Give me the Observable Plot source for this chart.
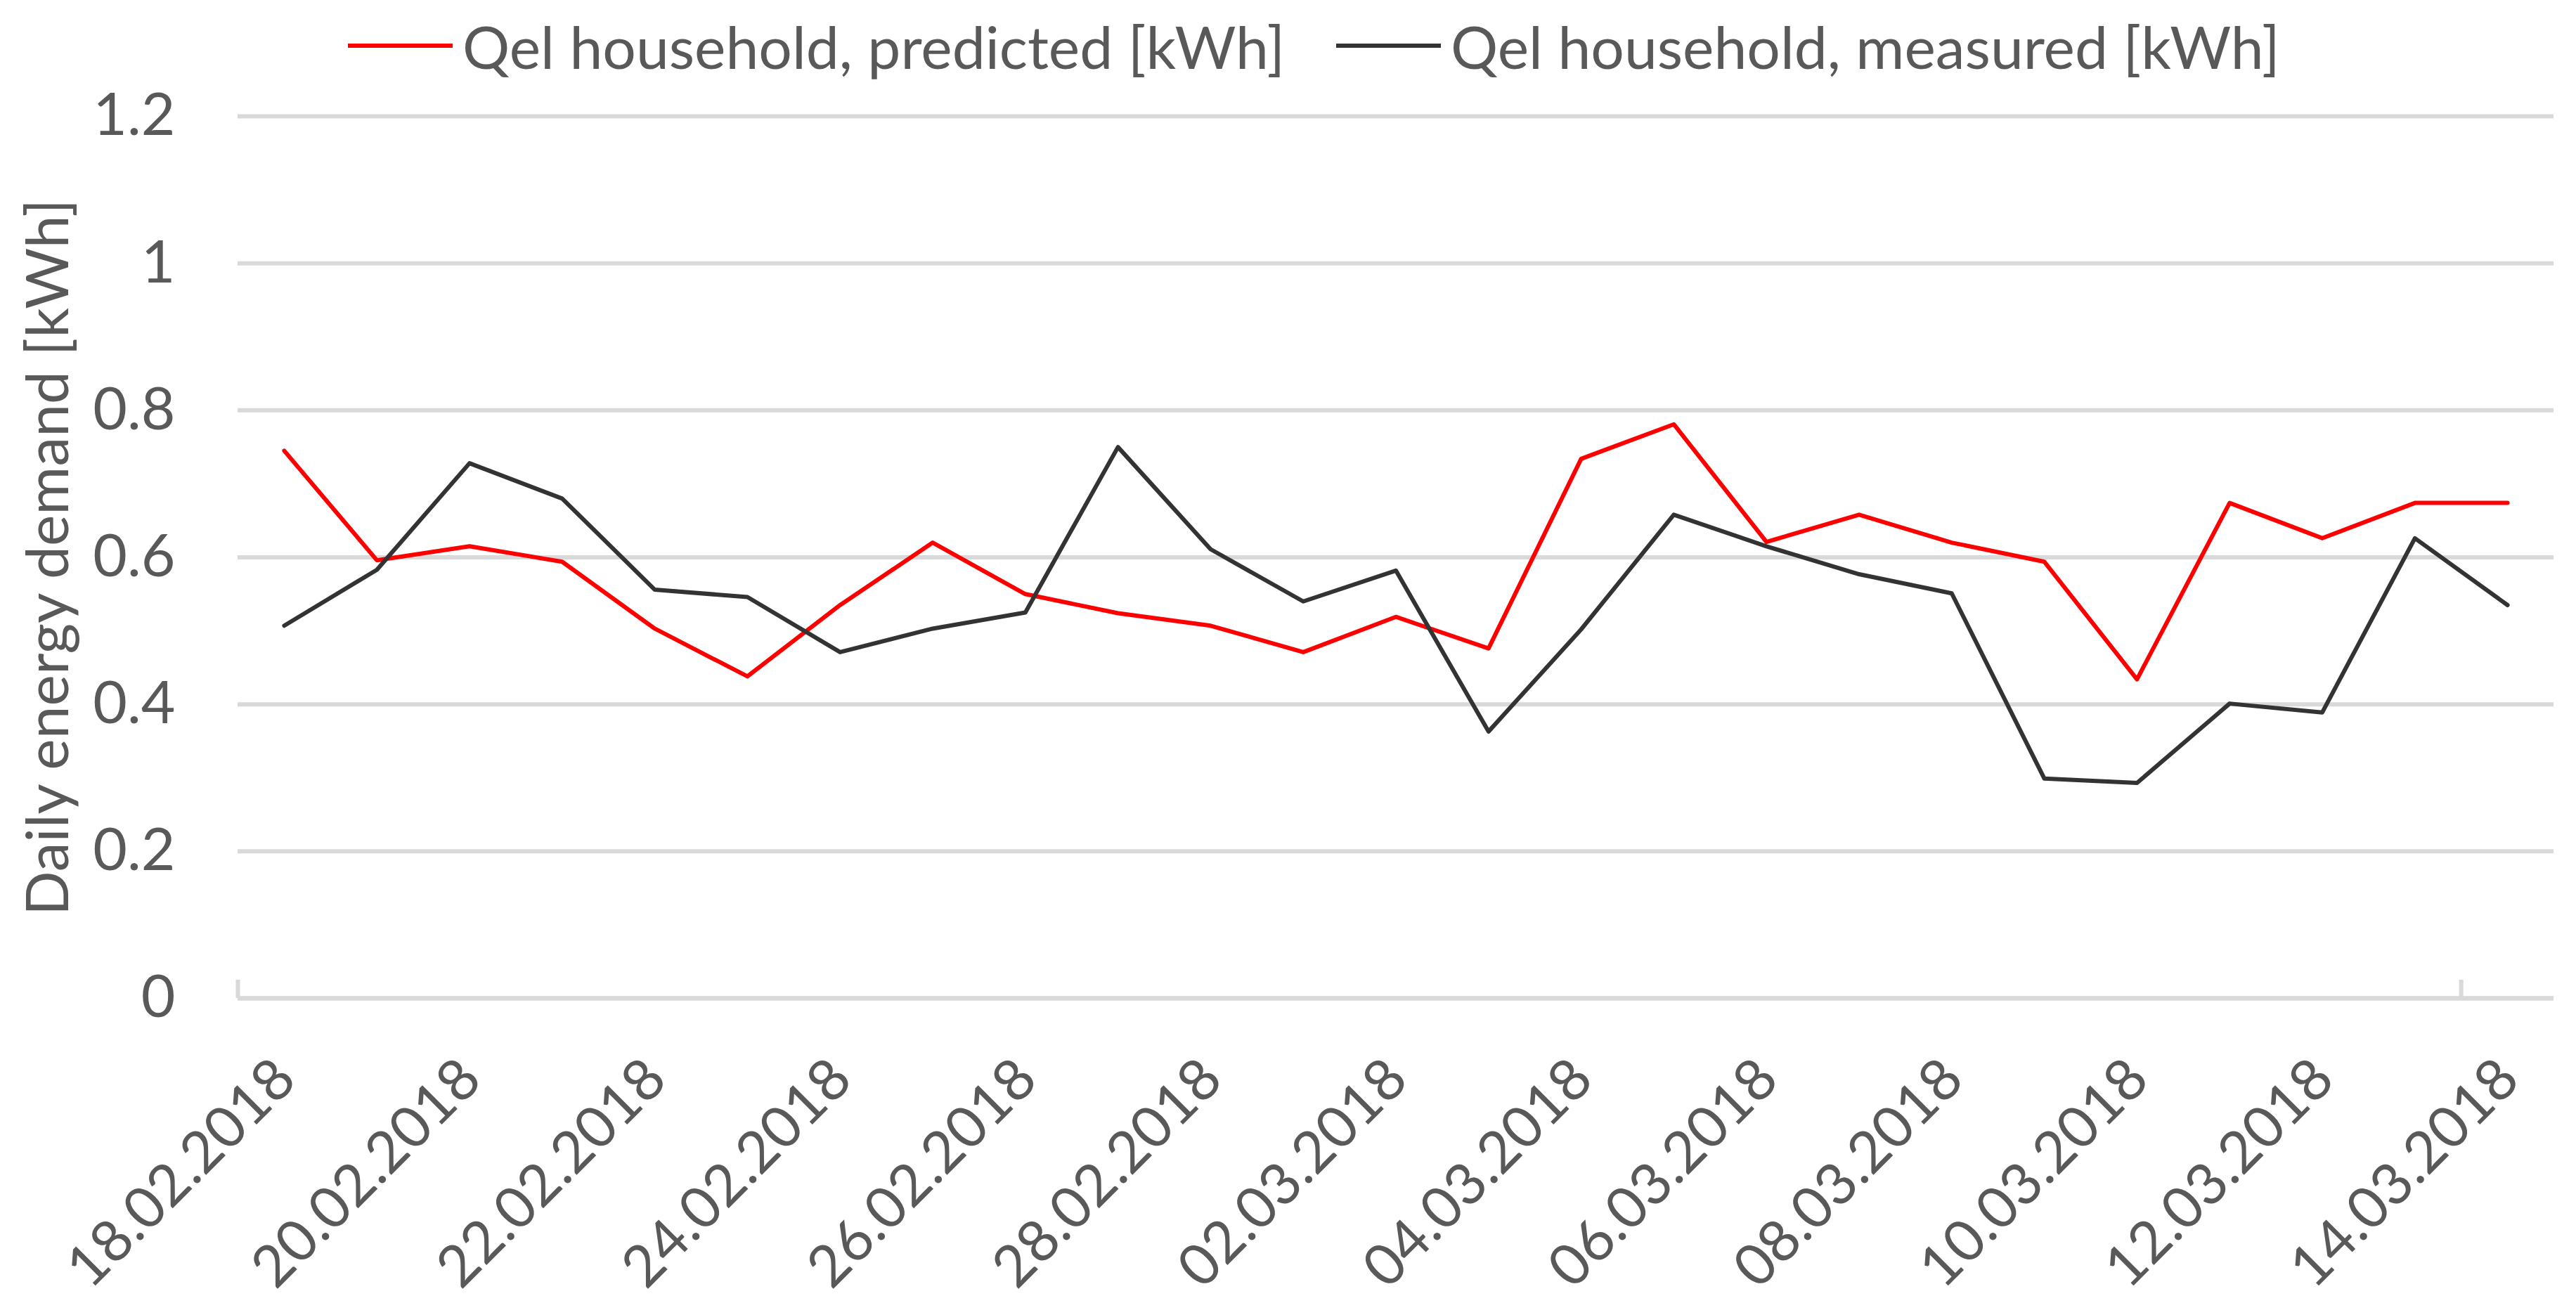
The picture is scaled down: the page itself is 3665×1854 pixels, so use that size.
<!DOCTYPE html>
<html>
<head>
<meta charset="utf-8">
<script src="https://cdn.jsdelivr.net/npm/d3@7"></script>
<script src="https://cdn.jsdelivr.net/npm/@observablehq/plot@0.6"></script>
<style>
  html, body { margin: 0; padding: 0; background: #fff; }
  #legend { position: relative; height: 100px; font-family: Lato, "Open Sans", sans-serif; font-size: 84px; color: #595959; }
  .item { position: absolute; top: 15px; height: 100px; display: flex; align-items: center; }
  .swatch { width: 149px; height: 6px; margin-right: 14px; }
  #chart svg { display: block; }
</style>
</head>
<body>
<div id="legend"></div>
<div id="chart"></div>
<script>
const dates = ["18.02.2018","19.02.2018","20.02.2018","21.02.2018","22.02.2018","23.02.2018","24.02.2018","25.02.2018","26.02.2018","27.02.2018","28.02.2018","01.03.2018","02.03.2018","03.03.2018","04.03.2018","05.03.2018","06.03.2018","07.03.2018","08.03.2018","09.03.2018","10.03.2018","11.03.2018","12.03.2018","13.03.2018","14.03.2018"];
const predicted = [0.745,0.596,0.615,0.594,0.503,0.438,0.535,0.620,0.550,0.524,0.507,0.471,0.519,0.476,0.734,0.781,0.621,0.658,0.620,0.594,0.434,0.674,0.626,0.674,0.674];
const measured  = [0.507,0.583,0.728,0.680,0.556,0.546,0.471,0.503,0.525,0.750,0.611,0.540,0.582,0.363,0.502,0.658,0.615,0.577,0.551,0.299,0.293,0.401,0.389,0.626,0.535];
const seriesNames = ["Qel household, predicted [kWh]", "Qel household, measured [kWh]"];
const seriesColors = ["#ff0000", "#333333"];
const yTicks = [0, 0.2, 0.4, 0.6, 0.8, 1, 1.2];
const yLabels = ["0", "0.2", "0.4", "0.6", "0.8", "1", "1.2"];
const yTitle = "Daily energy demand [kWh]";
const labelEvery = 2;
const boundaryTicks = [-0.5, 23.5];

// legend
const legend = document.getElementById("legend");
const legendLeft = [495, 1901];
seriesNames.forEach((name, k) => {
  const it = document.createElement("div");
  it.className = "item";
  it.style.left = legendLeft[k] + "px";
  const sw = document.createElement("div");
  sw.className = "swatch";
  sw.style.background = seriesColors[k];
  const tx = document.createElement("span");
  tx.textContent = name;
  it.appendChild(sw); it.appendChild(tx);
  legend.appendChild(it);
});

const idx = dates.map((d, i) => i);
const tickIdx = idx.filter(i => i % labelEvery === 0);
const font = "Lato, 'Open Sans', sans-serif";

const chart = Plot.plot({
  width: 3665,
  height: 1754,
  marginTop: 65,
  marginBottom: 434,
  marginLeft: 338,
  marginRight: 32,
  style: { fontFamily: font, color: "#595959", background: "#fff" },
  x: { type: "linear", domain: [-0.5, dates.length - 0.5], axis: null },
  y: { domain: [0, 1.2], axis: null },
  marks: [
    Plot.ruleY(yTicks.filter(v => v > 0), { stroke: "#d9d9d9", strokeWidth: 6, strokeOpacity: 1 }),
    Plot.ruleY([0], { stroke: "#d9d9d9", strokeWidth: 6.5, strokeOpacity: 1 }),
    Plot.axisX({ ticks: boundaryTicks, tickSize: 26, dy: -26, tickFormat: () => "", stroke: "#d9d9d9", strokeWidth: 6, label: null }),
    Plot.axisY({ ticks: yTicks, tickFormat: (d) => yLabels[yTicks.indexOf(d)], tickSize: 0, tickPadding: 89, fontSize: 84, fill: "#595959", label: null }),
    Plot.text([yTitle], { frameAnchor: "left", rotate: -90, dx: -268, text: d => d, fontSize: 84, fill: "#595959", textAnchor: "middle", lineAnchor: "middle" }),
    Plot.text(tickIdx, { x: i => i, frameAnchor: "bottom", text: i => dates[i], rotate: -45, textAnchor: "end", lineAnchor: "middle", dx: 2, dy: 101, fontSize: 82, fill: "#595959" }),
    Plot.lineY(predicted, { x: (d, i) => i, y: d => d, stroke: seriesColors[0], strokeWidth: 6, strokeLinejoin: "round" }),
    Plot.lineY(measured, { x: (d, i) => i, y: d => d, stroke: seriesColors[1], strokeWidth: 6, strokeLinejoin: "round" })
  ]
});
document.getElementById("chart").appendChild(chart);
</script>
</body>
</html>
